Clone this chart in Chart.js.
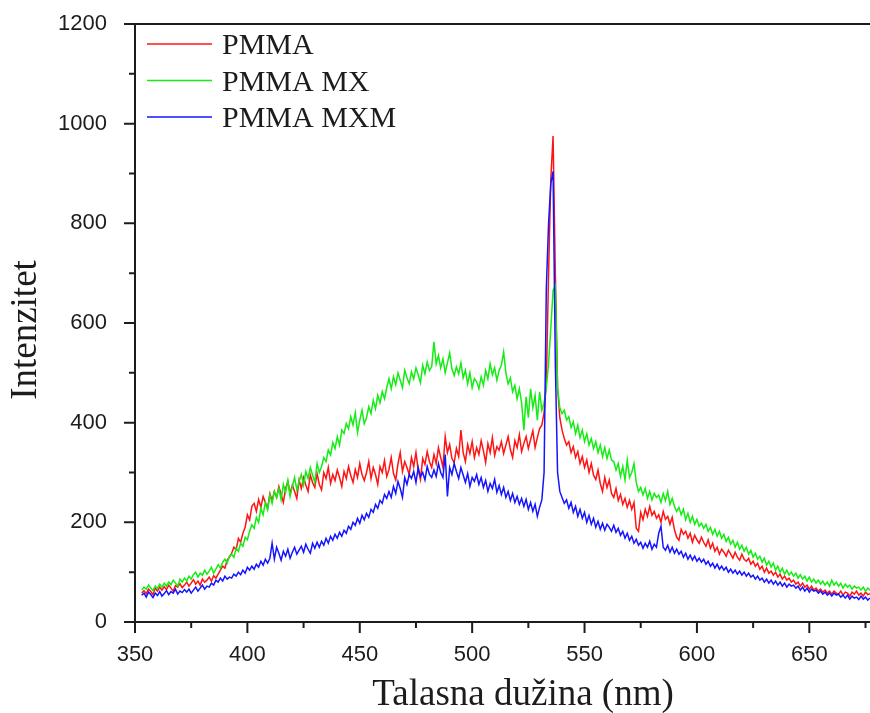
<!DOCTYPE html>
<html>
<head>
<meta charset="utf-8">
<script src="https://cdn.jsdelivr.net/npm/chart.js@4.4.1/dist/chart.umd.min.js"></script>
<style>
  body { margin: 0; background: #fff; }
  canvas { display: block; }
</style>
</head>
<body>
<canvas id="spectrum" width="870" height="713"></canvas>
<script>
// emission spectra, one sample per nm starting at firstNm
var firstNm = 353;

var pmma = [58,63,57,66,61,55,68,62,70,64,
  71,65,74,68,62,73,70,77,69,74,
  80,72,78,85,76,82,74,86,80,84,
  90,82,93,88,96,104,112,108,124,130,
  138,150,145,168,160,178,190,215,205,232,
  238,222,246,230,252,240,228,258,244,262,
  250,272,256,240,268,282,258,275,262,248,
  285,268,290,275,262,295,280,270,298,276,
  265,300,288,310,278,296,284,305,290,272,
  302,288,312,294,280,306,290,318,296,284,
  300,322,288,310,296,276,312,300,324,292,
  306,330,298,285,318,340,302,322,310,296,
  330,312,340,305,286,328,316,342,322,310,
  336,318,350,330,310,372,340,356,328,320,
  348,332,385,340,322,356,338,362,330,350,
  336,364,344,320,358,340,370,334,352,345,
  362,338,355,372,346,330,364,350,376,342,
  358,372,348,366,384,350,370,388,395,420,
  480,700,890,975,700,470,410,385,368,355,
  362,340,352,330,342,318,332,310,325,300,
  318,295,286,305,278,262,290,270,285,258,
  250,268,244,256,236,248,230,244,226,240,
  188,182,220,205,226,212,232,214,222,208,
  215,200,222,206,212,196,210,185,170,164,
  186,176,182,168,178,160,174,165,158,170,
  160,152,165,148,158,142,150,136,146,140,
  132,144,136,128,140,130,124,136,126,122,
  128,116,122,112,118,106,112,100,108,98,
  102,94,100,90,96,86,92,84,88,80,
  84,76,80,72,78,70,74,66,72,64,
  68,62,66,60,64,58,62,56,62,58,
  56,62,54,60,58,52,60,56,62,54,
  58,52,60,55,57];

var pmmaMx = [64,70,66,74,68,63,72,67,76,70,
  78,72,80,75,84,78,72,86,80,88,
  82,92,86,95,100,90,98,94,104,96,
  102,110,98,106,115,108,120,126,118,132,
  136,130,148,142,158,152,170,165,182,195,
  188,210,200,228,215,240,225,255,238,262,
  250,268,245,276,260,284,252,272,290,265,
  282,296,275,302,288,310,295,280,318,300,
  312,330,322,345,335,360,348,372,355,385,
  378,398,388,412,395,420,380,405,425,398,
  410,432,418,445,428,455,440,462,448,470,
  488,468,492,476,500,485,470,505,490,478,
  502,488,510,496,480,515,498,522,505,512,
  562,518,535,510,528,500,520,540,508,495,
  512,498,520,490,505,478,500,470,488,482,
  468,492,475,505,488,518,496,510,485,505,
  515,542,500,478,490,462,475,448,468,440,
  385,452,410,468,430,455,405,462,425,440,
  470,520,590,665,675,470,430,418,425,405,
  412,390,402,378,395,370,385,362,378,355,
  368,348,362,340,355,332,350,328,345,325,
  322,305,318,292,312,285,325,290,300,318,
  280,262,270,255,268,248,262,245,258,250,
  255,240,258,244,262,236,248,232,222,230,
  215,226,205,218,200,212,196,206,192,198,
  188,196,182,190,176,186,172,182,168,176,
  162,170,156,164,150,160,146,154,142,150,
  136,144,130,138,126,132,120,128,114,122,
  110,118,104,112,100,108,96,104,94,100,
  92,98,88,95,86,92,82,90,80,86,
  78,84,76,82,74,80,72,84,74,80,
  72,78,68,76,70,74,66,72,68,70,
  64,70,62,68,64];

var pmmaMxm = [54,58,50,60,55,49,58,53,61,52,
  57,63,55,61,58,66,56,62,59,65,
  60,66,58,64,70,62,68,74,66,72,
  70,78,74,84,80,88,82,92,86,90,
  88,96,92,100,95,104,98,110,104,112,
  106,116,110,122,114,126,118,128,158,126,
  150,138,124,142,132,146,128,140,150,136,
  144,152,140,156,146,138,158,148,160,150,
  162,154,168,158,172,164,176,168,180,172,
  184,178,192,186,200,194,208,198,214,205,
  218,210,226,220,236,228,244,238,256,248,
  262,250,272,258,282,268,250,290,276,296,
  288,302,280,310,292,300,285,312,296,290,
  305,292,318,300,290,336,252,310,296,318,
  302,288,310,295,280,298,272,290,282,296,
  276,290,270,284,262,278,268,286,260,274,
  256,270,250,262,244,258,240,252,236,248,
  232,246,226,240,222,236,212,230,245,300,
  670,800,880,904,520,300,262,250,238,245,
  228,240,220,232,212,226,208,220,200,214,
  196,208,190,202,186,198,184,196,190,182,
  194,180,188,174,182,168,178,164,172,158,
  166,154,160,148,158,150,162,146,156,150,
  178,192,150,144,154,140,150,138,146,136,
  142,130,138,126,134,124,132,122,128,120,
  126,116,122,112,118,108,116,106,112,104,
  110,100,106,98,104,96,102,94,100,92,
  98,90,94,86,92,84,88,80,86,78,
  84,76,82,74,80,72,78,70,76,72,
  74,68,72,64,70,62,68,60,66,62,
  64,58,62,56,60,54,58,52,58,54,
  56,50,54,48,54,46,52,48,50,45,
  52,46,50,44,48];

var seriesNames = ["PMMA", "PMMA MX", "PMMA MXM"];
var seriesColors = ["#ff1414", "#14ec14", "#1414ff"];

var xTicks = [350, 400, 450, 500, 550, 600, 650];
var xMinorTicks = [375, 425, 475, 525, 575, 625, 675];
var yTicks = [0, 200, 400, 600, 800, 1000, 1200];
var yMinorTicks = [100, 300, 500, 700, 900, 1100];

var xTitle = "Talasna dužina (nm)";
var yTitle = "Intenzitet";

function toPoints(values) {
  var pts = [];
  for (var i = 0; i < values.length; i++) {
    pts.push({x: firstNm + i, y: values[i]});
  }
  return pts;
}

var sansFont = "'Liberation Sans', Arial, sans-serif";
var serifFont = "'Liberation Serif', 'Times New Roman', serif";
var ink = "#1c1c1c";

// axis box, outer tick marks, axis titles and the legend
var framePlugin = {
  id: 'frame',
  afterDraw: function(chart) {
    var ctx = chart.ctx;
    var a = chart.chartArea;
    var xs = chart.scales.x, ys = chart.scales.y;
    ctx.save();
    ctx.strokeStyle = ink;
    ctx.lineWidth = 2;
    ctx.beginPath();
    ctx.moveTo(a.left, a.top);
    ctx.lineTo(a.left, a.bottom);
    ctx.lineTo(a.right, a.bottom);
    ctx.moveTo(a.left, a.top);
    ctx.lineTo(a.right, a.top);
    yTicks.forEach(function(v) {
      var p = ys.getPixelForValue(v);
      ctx.moveTo(a.left, p); ctx.lineTo(a.left - 11, p);
    });
    yMinorTicks.forEach(function(v) {
      var p = ys.getPixelForValue(v);
      ctx.moveTo(a.left, p); ctx.lineTo(a.left - 6, p);
    });
    xTicks.forEach(function(v) {
      var p = xs.getPixelForValue(v);
      ctx.moveTo(p, a.bottom); ctx.lineTo(p, a.bottom + 11);
    });
    xMinorTicks.forEach(function(v) {
      var p = xs.getPixelForValue(v);
      ctx.moveTo(p, a.bottom); ctx.lineTo(p, a.bottom + 6);
    });
    ctx.stroke();

    // axis titles
    ctx.fillStyle = ink;
    ctx.font = "37px " + serifFont;
    ctx.textAlign = 'center';
    ctx.textBaseline = 'alphabetic';
    ctx.fillText(xTitle, 523, 705);
    ctx.save();
    ctx.translate(36, 330);
    ctx.rotate(-Math.PI / 2);
    ctx.fillText(yTitle, 0, 0);
    ctx.restore();

    // legend in the upper left corner
    ctx.font = "30px " + serifFont;
    ctx.textAlign = 'left';
    chart.data.datasets.forEach(function(ds, i) {
      var y = 44 + i * 36.5;
      ctx.strokeStyle = ds.borderColor;
      ctx.lineWidth = 1.6;
      ctx.beginPath();
      ctx.moveTo(147, y);
      ctx.lineTo(212, y);
      ctx.stroke();
      ctx.fillText(ds.label, 222, y + 10);
    });
    ctx.restore();
  }
};

var series = [pmma, pmmaMx, pmmaMxm];
var datasets = series.map(function(values, i) {
  return {
    label: seriesNames[i],
    data: toPoints(values),
    borderColor: seriesColors[i],
    borderWidth: 1.5,
    pointRadius: 0,
    tension: 0,
    fill: false,
    order: 2 - i
  };
});

function plainLabel(v) { return String(v); }

// the tick marks are drawn by framePlugin; tickLength here only sets the label offset
new Chart(document.getElementById('spectrum'), {
  type: 'line',
  data: { datasets: datasets },
  options: {
    responsive: false,
    animation: false,
    devicePixelRatio: 1,
    layout: { padding: { top: 24, right: 0, bottom: 0, left: 0 } },
    plugins: {
      legend: { display: false },
      tooltip: { enabled: false }
    },
    scales: {
      x: {
        type: 'linear',
        min: 350,
        max: 677,
        afterBuildTicks: function(s) { s.ticks = xTicks.map(function(v) { return {value: v}; }); },
        afterFit: function(s) { s.height = 91; },
        grid: { display: false, drawTicks: true, tickLength: 20 },
        border: { display: false },
        ticks: { color: ink, padding: 0, maxRotation: 0, autoSkip: false, callback: plainLabel,
                 font: { family: sansFont, size: 22 } }
      },
      y: {
        type: 'linear',
        min: 0,
        max: 1200,
        afterBuildTicks: function(s) { s.ticks = yTicks.map(function(v) { return {value: v}; }); },
        afterFit: function(s) { s.width = 135; },
        grid: { display: false, drawTicks: true, tickLength: 28 },
        border: { display: false },
        ticks: { color: ink, padding: 0, autoSkip: false, callback: plainLabel,
                 font: { family: sansFont, size: 22 } }
      }
    }
  },
  plugins: [framePlugin]
});
</script>
</body>
</html>
